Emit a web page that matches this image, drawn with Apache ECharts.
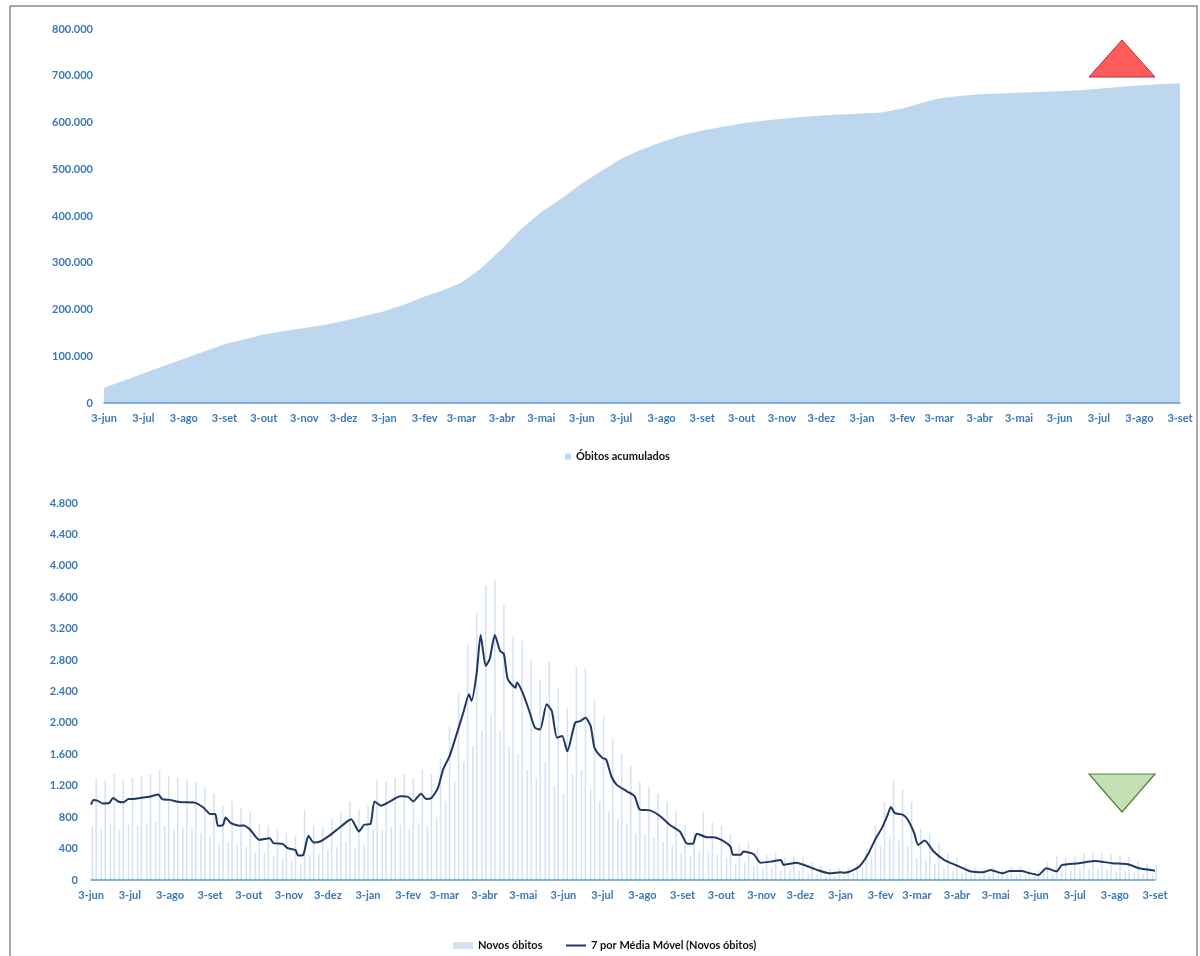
<!DOCTYPE html>
<html>
<head>
<meta charset="utf-8">
<title>Óbitos</title>
<script src="https://cdn.jsdelivr.net/npm/echarts@6/dist/echarts.min.js"></script>
<style>
  html, body {margin: 0; padding: 0; background: #fff;}
  #chart {width: 1200px; height: 956px;}
</style>
</head>
<body>
<div id="chart"></div>
<script>
const meses = ['jan', 'fev', 'mar', 'abr', 'mai', 'jun', 'jul', 'ago', 'set', 'out', 'nov', 'dez'];
const DIA = 86400000;
const inicio = Date.UTC(2020, 5, 3);
const fim = Date.UTC(2022, 8, 3);
const totalDias = (fim - inicio) / DIA;

const acumulados = [
  32548, 47748, 63174, 78772, 94665, 109888, 125502, 135793, 146352, 153675,
  160496, 166699, 175270, 185650, 196018, 210299, 227563, 242090, 257361, 287499,
  330193, 373335, 408622, 436537, 469388, 496172, 522311, 541266, 558432, 571662,
  582670, 590508, 597948, 603465, 608235, 611851, 615179, 617271, 619133, 621166,
  630000, 642000, 651500, 656500, 660300, 662100, 663800, 665000, 666800, 669000,
  672400, 676000, 679000, 682000, 684000
];

// média móvel de 7 dias: dia (contado a partir de 3-jun-2020) e valor
const mediaDias = [
  0, 2, 5, 9, 14, 17, 21, 25, 29, 33, 38, 45, 52, 55, 61, 66, 71, 80, 87, 92,
  96, 98, 102, 104, 108, 115, 118, 123, 130, 138, 141, 148, 152, 158, 160, 164, 168, 172, 177, 185,
  190, 198, 201, 207, 211, 216, 219, 224, 231, 239, 245, 249, 255, 259, 263, 268, 272, 277, 282, 288,
  292, 294, 298, 301, 305, 308, 312, 316, 319, 322, 328, 329, 334, 339, 343, 347, 352, 356, 360, 364,
  368, 374, 378, 382, 386, 389, 395, 398, 402, 406, 414, 420, 424, 432, 440, 447, 455, 460, 465, 468,
  476, 481, 487, 494, 496, 502, 504, 512, 517, 525, 533, 535, 545, 553, 561, 571, 579, 582, 588, 594,
  600, 606, 611, 615, 618, 621, 627, 631, 636, 639, 644, 651, 659, 671, 680, 689, 695, 704, 710, 719,
  724, 732, 738, 746, 750, 763, 775, 789, 801, 810, 822
];
const mediaValores = [
  960, 1020, 1010, 975, 980, 1045, 1000, 990, 1030, 1030, 1045, 1060, 1090, 1030, 1020, 1000, 990, 985, 920, 840,
  840, 690, 700, 795, 725, 690, 695, 640, 511, 533, 470, 460, 405, 380, 311, 320, 562, 477, 490, 575,
  640, 746, 775, 618, 703, 715, 1001, 946, 1001, 1065, 1058, 1001, 1099, 1030, 1044, 1171, 1406, 1576, 1832, 2151,
  2364, 2279, 2641, 3118, 2726, 2812, 3118, 2918, 2876, 2556, 2449, 2513, 2364, 2130, 1938, 1917, 2237, 2151, 1811, 1832,
  1640, 2002, 2024, 2066, 1960, 1683, 1555, 1534, 1321, 1214, 1129, 1065, 895, 886, 809, 703, 618, 469, 460, 588,
  545, 545, 511, 426, 320, 320, 362, 328, 221, 234, 256, 192, 221, 179, 128, 85, 98, 92, 119, 179,
  320, 520, 660, 809, 929, 852, 831, 767, 596, 447, 503, 362, 256, 170, 107, 98, 128, 85, 115, 115,
  92, 64, 149, 110, 190, 213, 243, 213, 200, 149, 119
];

// novos óbitos diários: por semana, o dia mais alto e um dia baixo
const novosAltos = [
  1300, 1270, 1350, 1280, 1300, 1330, 1350, 1400, 1320, 1300, 1280, 1250, 1180, 1100, 950, 1000, 920, 880, 720, 700,
  650, 600, 560, 900, 700, 680, 780, 860, 1000, 900, 950, 1280, 1250, 1300, 1350, 1300, 1400, 1350, 1550, 1950,
  2400, 3000, 3400, 3750, 3820, 3500, 3100, 3050, 2800, 2550, 2780, 2450, 2200, 2720, 2700, 2300, 2080, 1800, 1600, 1450,
  1250, 1180, 1100, 1000, 880, 700, 620, 870, 730, 690, 580, 450, 470, 400, 320, 340, 290, 300, 280, 230,
  180, 140, 150, 160, 220, 400, 700, 1000, 1280, 1150, 1000, 650, 600, 470, 340, 280, 210, 160, 150, 170,
  140, 170, 170, 150, 120, 220, 300, 280, 300, 340, 360, 350, 330, 310, 300, 240, 210, 190
];
const novosBaixos = [
  680, 650, 720, 640, 700, 690, 720, 740, 690, 650, 660, 640, 600, 560, 450, 480, 450, 420, 350, 340,
  300, 280, 250, 200, 320, 330, 380, 420, 480, 400, 450, 650, 640, 680, 700, 650, 720, 680, 800, 1000,
  1250, 1500, 1700, 1900, 2100, 1900, 1700, 1600, 1400, 1300, 1500, 1200, 1100, 1350, 1400, 1150, 1000, 880, 780, 720,
  600, 580, 540, 480, 430, 340, 300, 370, 350, 330, 280, 200, 220, 180, 140, 150, 120, 130, 120, 90,
  70, 50, 55, 60, 90, 160, 300, 430, 550, 500, 430, 280, 250, 200, 140, 110, 80, 60, 55, 70,
  50, 65, 65, 55, 40, 90, 70, 110, 120, 130, 140, 140, 130, 120, 120, 95, 85, 80
];

const rotulo = '#3a78b8';
const fonte = 'Lato, "Liberation Sans", sans-serif';

const diaDe = t => Math.round((t - inicio) / DIA);

// dia 3 de cada mês, do início ao fim
const marcas = [];
for (let m = 0; ; m++) {
  const t = Date.UTC(2020, 5 + m, 3);
  if (t > fim) break;
  marcas.push(diaDe(t));
}

const diasAcum = [];
for (let m = 0; diasAcum.length < acumulados.length; m++) {
  diasAcum.push(diaDe(Date.UTC(2020, 5 + m, 3)));
  diasAcum.push(diaDe(Date.UTC(2020, 5 + m, 18)));
}
const serieAcum = acumulados.map((v, i) => [diasAcum[i], v]);
const serieMedia = mediaValores.map((v, i) => [mediaDias[i], v]);
const serieNovos = [];
novosAltos.forEach((v, k) => {
  serieNovos.push([7 * k + 1, novosBaixos[k]]);
  serieNovos.push([7 * k + 4, v]);
});

const milhar = v => String(v).replace(/\B(?=(\d{3})+(?!\d))/g, '.');
const nomeMes = d => '3-' + meses[new Date(inicio + d * DIA).getUTCMonth()];

const eixoX = (gridIndex) => ({
  type: 'value',
  gridIndex,
  min: 0,
  max: totalDias,
  z: 5,
  axisLine: {onZero: false, lineStyle: {color: '#5b9bd5', width: 1.5}},
  axisTick: {show: false},
  splitLine: {show: false},
  axisLabel: {
    customValues: marcas,
    formatter: nomeMes,
    color: rotulo, fontFamily: fonte, fontWeight: 'bold', fontSize: 11,
    margin: 10, hideOverlap: false
  }
});

const eixoY = (gridIndex, max, interval, margin) => ({
  type: 'value',
  gridIndex,
  min: 0,
  max,
  interval,
  axisLine: {show: false},
  axisTick: {show: false},
  splitLine: {show: false},
  axisLabel: {
    formatter: milhar, color: rotulo, fontFamily: fonte,
    fontWeight: 'bold', fontSize: 11, margin
  }
});

const legenda = (nome, left, w, h) => ({
  data: [nome],
  left, top: 935,
  icon: 'rect', itemWidth: w, itemHeight: h,
  textStyle: {color: '#111', fontFamily: fonte, fontWeight: 'bold', fontSize: 11}
});

const chart = echarts.init(document.getElementById('chart'));
chart.setOption({
  animation: false,
  grid: [
    {left: 104, right: 20, top: 29, height: 374},
    {left: 91, right: 45, top: 503, height: 377}
  ],
  xAxis: [eixoX(0), eixoX(1)],
  yAxis: [eixoY(0, 800000, 100000, 11), eixoY(1, 4800, 400, 13)],
  legend: [
    {
      data: ['Óbitos acumulados'], left: 560, top: 446,
      icon: 'rect', itemWidth: 6, itemHeight: 6, itemGap: 4,
      textStyle: {color: '#111', fontFamily: fonte, fontWeight: 'bold', fontSize: 11}
    },
    legenda('Novos óbitos', 448, 20, 7),
    legenda('7 por Média Móvel (Novos óbitos)', 561, 20, 2)
  ],
  series: [
    {
      name: 'Óbitos acumulados', type: 'line', xAxisIndex: 0, yAxisIndex: 0,
      data: serieAcum, smooth: false, showSymbol: false, symbol: 'none',
      color: '#bdd7ee',
      lineStyle: {width: 0},
      areaStyle: {color: '#bdd7ee', opacity: 1}
    },
    {
      name: 'Novos óbitos', type: 'bar', xAxisIndex: 1, yAxisIndex: 1,
      data: serieNovos, barWidth: 1.5, color: '#d3e3f3'
    },
    {
      name: '7 por Média Móvel (Novos óbitos)', type: 'line', xAxisIndex: 1, yAxisIndex: 1,
      data: serieMedia, showSymbol: false, symbol: 'none', smooth: 0.2,
      color: '#1f3864',
      lineStyle: {width: 2, color: '#1f3864'}
    }
  ],
  graphic: [
    {
      type: 'rect', silent: true,
      shape: {x: 10, y: 6, width: 1187, height: 970},
      style: {fill: 'none', stroke: '#8c8c8c', lineWidth: 1.5}
    },
    {
      type: 'polygon', silent: true,
      shape: {points: [[1122, 40], [1155, 77], [1089, 77]]},
      style: {fill: '#ff5b5b', stroke: '#c62828', lineWidth: 1}
    },
    {
      type: 'polygon', silent: true,
      shape: {points: [[1089, 774], [1155, 774], [1122, 812]]},
      style: {fill: '#c5e0b4', stroke: '#548235', lineWidth: 1.2}
    }
  ]
});
</script>
</body>
</html>
